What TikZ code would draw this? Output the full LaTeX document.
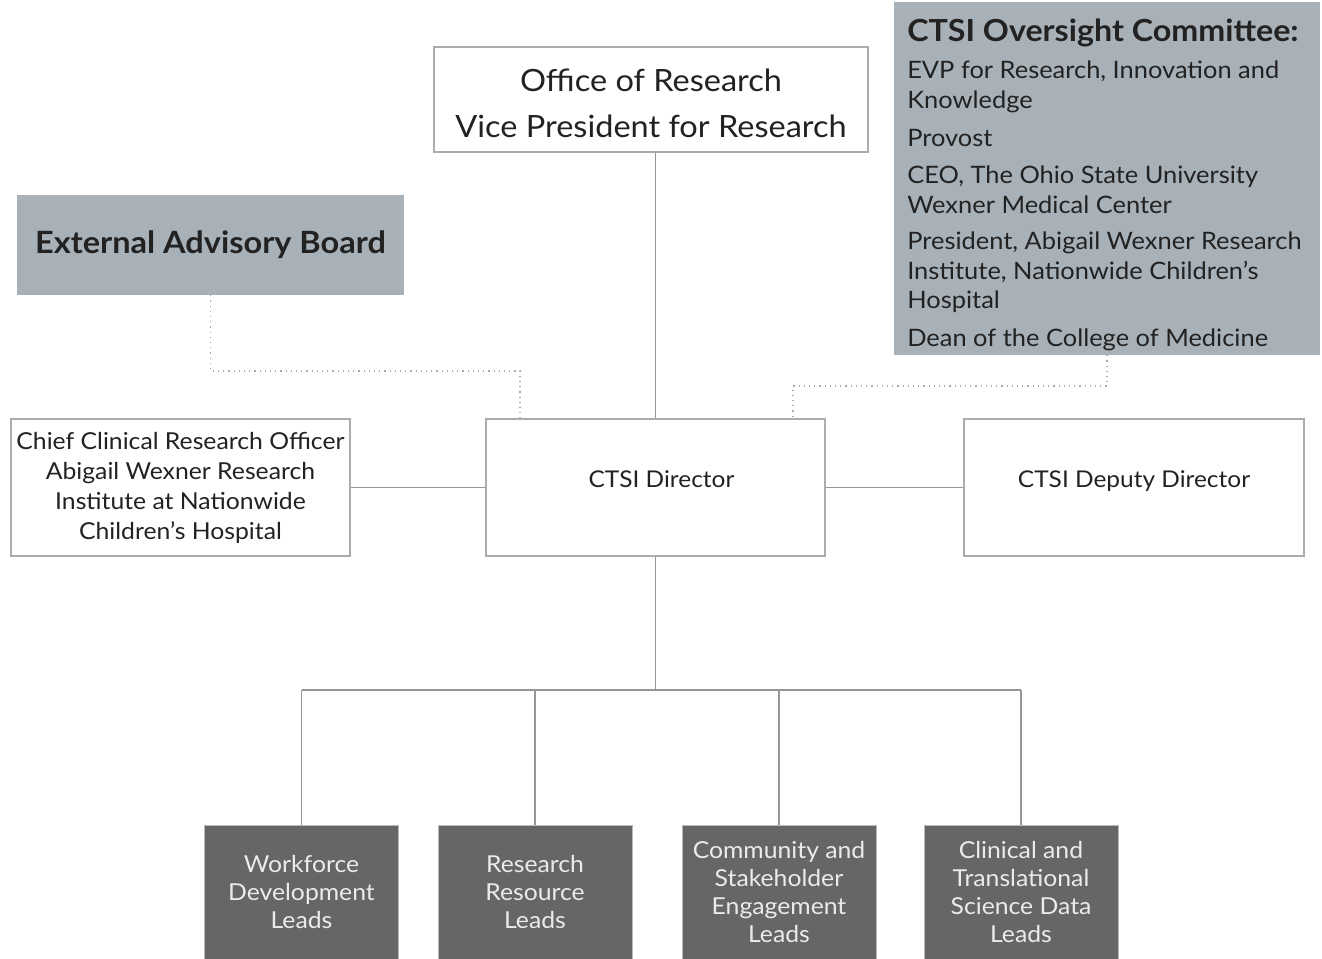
\documentclass[tikz,border=0pt]{standalone}
\usepackage{fontspec}
\setmainfont{Lato}[FakeStretch=1.06]
\definecolor{boardgray}{RGB}{168,177,184}
\definecolor{leadgray}{RGB}{102,102,102}
\definecolor{linegray}{RGB}{150,150,150}
\definecolor{edgegray}{RGB}{172,172,172}
\definecolor{inkgray}{RGB}{34,34,34}

\begin{document}
\begin{tikzpicture}[x=0.75pt,y=0.75pt,yscale=-1,xscale=1,
  whitebox/.style={draw=edgegray,line width=1pt,fill=white,inner sep=0pt,align=center,text=inkgray},
  greybox/.style={fill=boardgray,draw=none,inner sep=0pt,text=inkgray},
  member/.style={anchor=west,inner sep=0pt,align=left,text=inkgray,font=\fontsize{18}{22.2}\selectfont},
  leadbox/.style={fill=leadgray,draw=gray!55,line width=0.6pt,inner sep=0pt,align=center,text=white!92!black,minimum width=145.5pt,minimum height=100.5pt,font=\fontsize{17.5}{21}\selectfont},
  link/.style={draw=linegray,line width=1pt},
  loose/.style={draw=linegray!80,line width=0.9pt,dash pattern=on 0.9pt off 3pt}]
\useasboundingbox (0,0) rectangle (1322,959);
\clip (0,0) rectangle (1322,959);

% Boxes
\node[whitebox,minimum width=325.5pt,minimum height=78.75pt,font=\fontsize{23}{34.5}\selectfont] (office) at (651,99.5) {\rule{0pt}{23pt}Office of Research\\Vice President for Research};
\node[greybox,minimum width=319.5pt,minimum height=264.75pt] (oversight) at (1107,178.5) {};
\node[greybox,minimum width=290.25pt,minimum height=75pt,font=\bfseries\fontsize{23}{25}\selectfont] (board) at (210.5,245) {External Advisory Board};
\node[whitebox,minimum width=254.25pt,minimum height=102.75pt,font=\fontsize{17.5}{22.5}\selectfont] (chief) at (180.5,487.5) {Chief Clinical Research Officer\\Abigail Wexner Research\\Institute at Nationwide\\Children's Hospital};
\node[whitebox,minimum width=254.25pt,minimum height=102.75pt,text depth=12pt,font=\fontsize{17.3}{22.5}\selectfont] (director) at (655.5,487.5) {\hspace*{9pt}CTSI Director};
\node[whitebox,minimum width=255pt,minimum height=102.75pt,text depth=12pt,font=\fontsize{17.3}{22.5}\selectfont] (deputy) at (1134,487.5) {CTSI Deputy Director};

% Oversight members
\node[anchor=west,inner sep=0pt,text=inkgray,font=\bfseries\fontsize{22.8}{26}\selectfont] (ovtitle) at (907,33) {CTSI Oversight Committee:};
\node[member] (ovevp) at (907,87) {EVP for Research, Innovation and\\Knowledge};
\node[member] (ovprovost) at (907,138.5) {Provost};
\node[member] (ovceo) at (907,190) {CEO, The Ohio State University\\Wexner Medical Center};
\node[member] (ovpresident) at (907,272.5) {President, Abigail Wexner Research\\Institute, Nationwide Children's\\Hospital};
\node[member] (ovdean) at (907,340) {Dean of the College of Medicine};

% Leads
\node[leadbox] (workforce) at (301.5,892) {Workforce\\Development\\Leads};
\node[leadbox] (resource) at (535,892) {Research\\Resource\\Leads};
\node[leadbox] (community) at (779,892) {Community and\\Stakeholder\\Engagement\\Leads};
\node[leadbox] (datasci) at (1021,892) {Clinical and\\Translational\\Science Data\\Leads};

%Straight Lines
\draw[link] (director.north |- office.south) -- (director.north);
\draw[link] (chief.east) -- (director.west);
\draw[link] (director.east) -- (deputy.west);
\coordinate (bus) at (657,690);
\draw[link] (director.south) -- (director.south |- bus);
\draw[link] (workforce.north |- bus) -- (datasci.north |- bus);
\draw[link] (workforce.north) -- (workforce.north |- bus);
\draw[link] (resource.north) -- (resource.north |- bus);
\draw[link] (community.north) -- (community.north |- bus);
\draw[link] (datasci.north) -- (datasci.north |- bus);

%Dotted Lines
\coordinate (boardbend) at (520,371);
\draw[loose] (board.south) |- (boardbend) -- (boardbend |- director.north);
\coordinate (oversightbend) at (793,386);
\draw[loose] (oversight.south) |- (oversightbend) -- (oversightbend |- director.north);

\end{tikzpicture}
\end{document}
